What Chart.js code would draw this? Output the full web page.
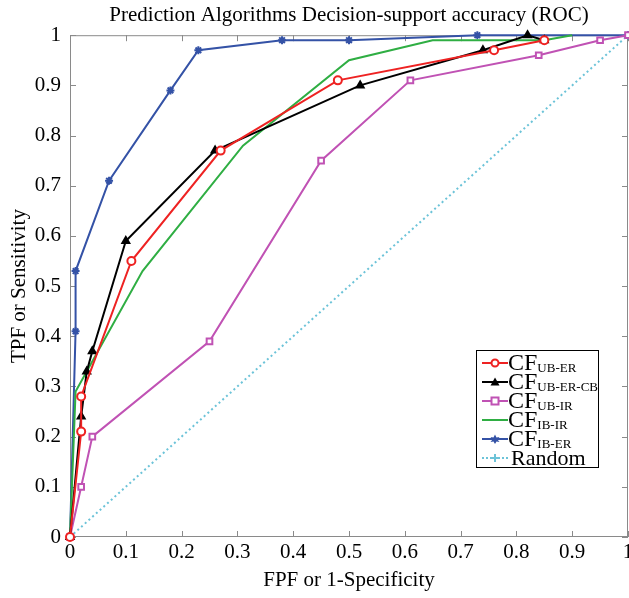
<!DOCTYPE html>
<html>
<head>
<meta charset="utf-8">
<script src="https://cdn.jsdelivr.net/npm/chart.js@4.4.1/dist/chart.umd.min.js"></script>
<style>
  body { margin: 0; background: #fff; }
  #wrap { position: relative; width: 629px; height: 598px; }
  #legend {
    position: absolute; left: 476px; top: 350px; width: 123px; height: 118px;
    border: 1px solid #000; background: #fff;
    font-family: "Liberation Serif", "Times New Roman", serif; color: #000;
    padding-top: 2px; box-sizing: border-box;
  }
  .row { display: flex; align-items: center; height: 19px; white-space: nowrap; }
  .row svg { margin-left: 5px; margin-right: 0px; flex: none; }
  .cf { font-size: 24px; line-height: 19px; }
  .cf sub { font-size: 13px; vertical-align: -2px; line-height: 0; }
  .rnd { font-size: 22px; line-height: 19px; margin-left: 3px; }
</style>
</head>
<body>
<div id="wrap">
  <canvas id="roc" width="629" height="598"></canvas>
  <div id="legend"></div>
</div>
<script>
// values
const fprUbEr   = [0, 0.02, 0.02, 0.11, 0.27, 0.48, 0.76, 0.85];
const tprUbEr   = [0, 0.21, 0.28, 0.55, 0.77, 0.91, 0.97, 0.99];

const fprUbErCb = [0, 0.02, 0.03, 0.04, 0.10, 0.26, 0.52, 0.74, 0.82, 0.85];
const tprUbErCb = [0, 0.24, 0.33, 0.37, 0.59, 0.77, 0.90, 0.97, 1.00, 0.99];

const fprUbIr   = [0, 0.02, 0.04, 0.25, 0.45, 0.61, 0.84, 0.95, 1];
const tprUbIr   = [0, 0.10, 0.20, 0.39, 0.75, 0.91, 0.96, 0.99, 1];

const fprIbIr   = [0, 0.01, 0.13, 0.31, 0.50, 0.65, 0.85, 0.90];
const tprIbIr   = [0, 0.29, 0.53, 0.78, 0.95, 0.99, 0.99, 1.00];

const fprIbEr   = [0, 0.01, 0.01, 0.07, 0.18, 0.23, 0.38, 0.50, 0.73, 1];
const tprIbEr   = [0, 0.41, 0.53, 0.71, 0.89, 0.97, 0.99, 0.99, 1.00, 1];

const fprRandom = [0, 1];
const tprRandom = [0, 1];

const tickValues = [0, 0.1, 0.2, 0.3, 0.4, 0.5, 0.6, 0.7, 0.8, 0.9, 1];
const tickLabels = ["0", "0.1", "0.2", "0.3", "0.4", "0.5", "0.6", "0.7", "0.8", "0.9", "1"];

const serif = "'Liberation Serif', 'Times New Roman', serif";

function pts(xs, ys){
  return xs.map((x, i) => ({ x: x, y: ys[i] }));
}

const series = [
  { name: "CF", sub: "UB-ER",    xs: fprUbEr,   ys: tprUbEr,   color: "#ee2222", style: "circle",   fill: "#fff" },
  { name: "CF", sub: "UB-ER-CB", xs: fprUbErCb, ys: tprUbErCb, color: "#000000", style: "triangle", fill: "#000" },
  { name: "CF", sub: "UB-IR",    xs: fprUbIr,   ys: tprUbIr,   color: "#c052b4", style: "rect",     fill: "#fff" },
  { name: "CF", sub: "IB-IR",    xs: fprIbIr,   ys: tprIbIr,   color: "#2fae43", style: false,      fill: "#fff" },
  { name: "CF", sub: "IB-ER",    xs: fprIbEr,   ys: tprIbEr,   color: "#3452a6", style: "star",     fill: "#3452a6" },
];

let datasets = series.map((s) => ({
  label: s.name + s.sub,
  data: pts(s.xs, s.ys),
  showLine: true,
  borderColor: s.color,
  backgroundColor: s.fill,
  borderWidth: 2,
  pointStyle: s.style,
  pointRadius: s.style ? 4 : 0,
  pointBorderWidth: 2,
  pointBorderColor: s.color,
  clip: false,
}));

datasets.push({
  label: "Random",
  data: pts(fprRandom, tprRandom),
  showLine: true,
  borderColor: "#6cc3d8",
  borderWidth: 2,
  borderDash: [2, 3],
  pointStyle: "cross",
  pointRadius: 4,
  pointBorderWidth: 2,
  pointBorderColor: "#6cc3d8",
  clip: false,
});

// box round the plot with small inward ticks
const framePlugin = {
  id: "frame",
  beforeDatasetsDraw(chart){
    const c = chart.ctx;
    const a = chart.chartArea;
    const xs = chart.scales.x, ys = chart.scales.y;
    c.save();
    c.strokeStyle = "#8a8a8a";
    c.lineWidth = 1;
    c.strokeRect(a.left + 0.5, a.top + 0.5, a.right - a.left - 1, a.bottom - a.top - 1);
    c.beginPath();
    tickValues.forEach((v)=>{
      const px = Math.round(xs.getPixelForValue(v)) + 0.5;
      c.moveTo(px, a.bottom); c.lineTo(px, a.bottom - 6);
      c.moveTo(px, a.top); c.lineTo(px, a.top + 6);
      const py = Math.round(ys.getPixelForValue(v)) + 0.5;
      c.moveTo(a.left, py); c.lineTo(a.left + 6, py);
      c.moveTo(a.right, py); c.lineTo(a.right - 6, py);
    });
    c.stroke();
    c.restore();
  }
};

function setTicks(scale){
  scale.ticks = tickValues.map((v) => ({ value: v }));
}

new Chart(document.getElementById("roc"), {
  type: "scatter",
  data: { datasets: datasets },
  plugins: [framePlugin],
  options: {
    responsive: false,
    animation: false,
    layout: { autoPadding: false, padding: { right: 1 } },
    plugins: {
      legend: { display: false },
      tooltip: { enabled: false },
      title: {
        display: true,
        fullSize: false,
        text: "Prediction Algorithms Decision-support accuracy (ROC)",
        color: "#000",
        font: { family: serif, size: 21, weight: "normal" },
        padding: { top: 3, bottom: 7 },
      },
    },
    scales: {
      x: {
        type: "linear", min: 0, max: 1,
        afterBuildTicks: setTicks,
        ticks: {
          callback: (v, i) => tickLabels[i],
          color: "#000", font: { family: serif, size: 21 },
          padding: 3, maxRotation: 0, autoSkip: false,
        },
        grid: { display: false, drawTicks: false },
        border: { display: false },
        title: {
          display: true, text: "FPF or 1-Specificity", color: "#000",
          font: { family: serif, size: 21 }, padding: { top: 0, bottom: 5 },
        },
        afterFit: (s) => { s.height = 61; s.paddingLeft = 0; s.paddingRight = 0; },
      },
      y: {
        type: "linear", min: 0, max: 1,
        afterBuildTicks: setTicks,
        ticks: {
          callback: (v, i) => tickLabels[i],
          color: "#000", font: { family: serif, size: 21 },
          padding: 9, autoSkip: false,
        },
        grid: { display: false, drawTicks: false },
        border: { display: false },
        title: {
          display: true, text: "TPF or Sensitivity", color: "#000",
          font: { family: serif, size: 21 }, padding: { top: 7, bottom: 0 },
        },
        afterFit: (s) => { s.width = 70; s.paddingTop = 0; s.paddingBottom = 0; },
      },
    },
  },
});

// legend with subscripts, as html text
function legendSample(color, style, dashed){
  let line = `<line x1="0" y1="6" x2="26" y2="6" stroke="${color}" stroke-width="2"${dashed ? ' stroke-dasharray="2 2"' : ""}/>`;
  let mark = "";
  if (style === "circle") mark = `<circle cx="13" cy="6" r="3.5" fill="#fff" stroke="${color}" stroke-width="2"/>`;
  if (style === "rect") mark = `<rect x="9.5" y="2.5" width="7" height="7" fill="#fff" stroke="${color}" stroke-width="2"/>`;
  if (style === "triangle") mark = `<polygon points="13,1.5 17.5,9.5 8.5,9.5" fill="${color}"/>`;
  if (style === "star") mark = `<polygon points="13,1.5 14.5,4.5 17.5,4 15.5,6.5 17.5,9 14.5,8.5 13,11 11.5,8.5 8.5,9 10.5,6.5 8.5,4 11.5,4.5" fill="${color}"/>`;
  if (style === "cross") mark = `<path d="M13 2v8M9 6h8" stroke="${color}" stroke-width="2"/>`;
  return `<svg width="26" height="12">${line}${mark}</svg>`;
}

const legendEl = document.getElementById("legend");
series.forEach((s)=>{
  let row = document.createElement("div");
  row.className = "row";
  row.innerHTML = legendSample(s.color, s.style, false) + `<span class="cf">${s.name}<sub>${s.sub}</sub></span>`;
  legendEl.appendChild(row);
});
let rnd = document.createElement("div");
rnd.className = "row";
rnd.innerHTML = legendSample("#6cc3d8", "cross", true) + `<span class="rnd">Random</span>`;
legendEl.appendChild(rnd);
</script>
</body>
</html>
